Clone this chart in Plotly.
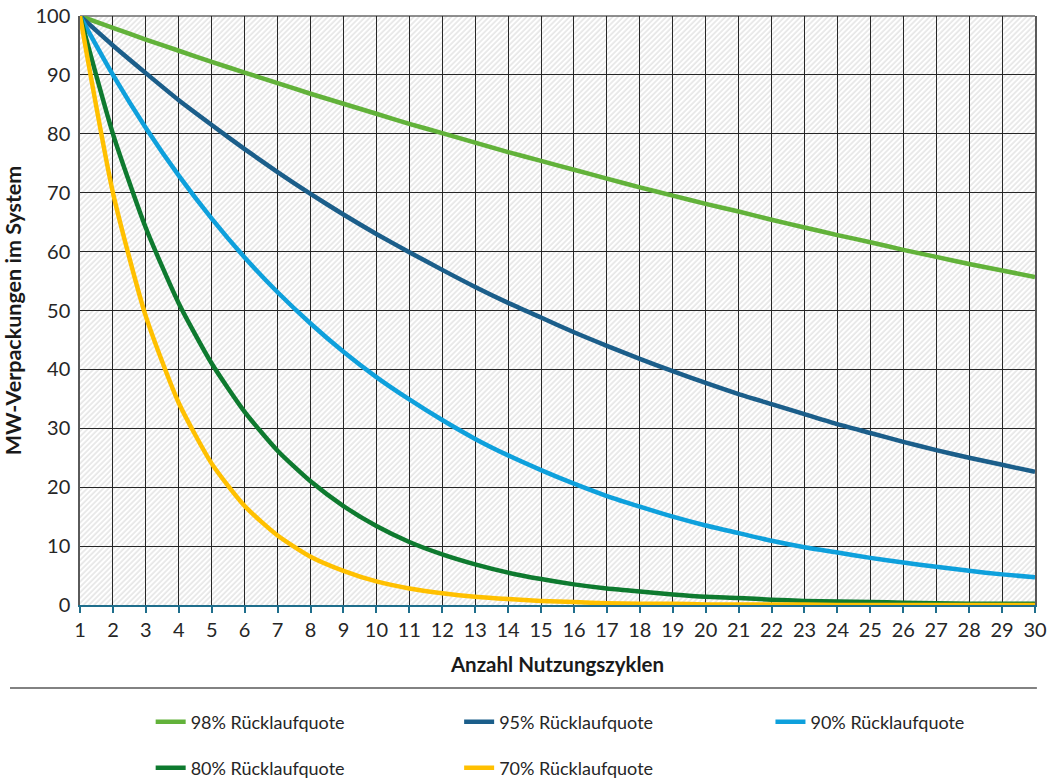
import base64
import plotly.graph_objects as go

# Nutzungszyklen 1..30
zyklen = list(range(1, 31))

# MW-Verpackungen im System je Rücklaufquote
quote_98 = [100, 98.0, 96.0, 94.1, 92.2, 90.4, 88.6, 86.8, 85.1, 83.4,
            81.7, 80.1, 78.5, 76.9, 75.4, 73.9, 72.4, 70.9, 69.5, 68.1,
            66.8, 65.4, 64.1, 62.8, 61.6, 60.3, 59.1, 57.9, 56.8, 55.7]
quote_95 = [100, 95.0, 90.3, 85.7, 81.5, 77.4, 73.5, 69.8, 66.3, 63.0,
            59.9, 56.9, 54.0, 51.3, 48.8, 46.3, 44.0, 41.8, 39.7, 37.7,
            35.8, 34.1, 32.4, 30.7, 29.2, 27.7, 26.3, 25.0, 23.8, 22.6]
quote_90 = [100, 90.0, 81.0, 72.9, 65.6, 59.0, 53.1, 47.8, 43.0, 38.7,
            34.9, 31.4, 28.2, 25.4, 22.9, 20.6, 18.5, 16.7, 15.0, 13.5,
            12.2, 10.9, 9.8, 8.9, 8.0, 7.2, 6.5, 5.8, 5.2, 4.7]
quote_80 = [100, 80.0, 64.0, 51.2, 41.0, 32.8, 26.2, 21.0, 16.8, 13.4,
            10.7, 8.6, 6.9, 5.5, 4.4, 3.5, 2.8, 2.3, 1.8, 1.4,
            1.2, 0.9, 0.7, 0.6, 0.5, 0.4, 0.3, 0.2, 0.2, 0.2]
quote_70 = [100, 70.0, 49.0, 34.3, 24.0, 16.8, 11.8, 8.2, 5.8, 4.0,
            2.8, 2.0, 1.4, 1.0, 0.7, 0.5, 0.3, 0.2, 0.2, 0.1,
            0.1, 0.1, 0.1, 0.0, 0.0, 0.0, 0.0, 0.0, 0.0, 0.0]

# (name, values, colour, legend id, legend x, legend y)
serien = [
    ("98% Rücklaufquote", quote_98, "#62B23A", "legend",  0.074, -0.1986),
    ("95% Rücklaufquote", quote_95, "#1B5E8A", "legend2", 0.397, -0.1986),
    ("90% Rücklaufquote", quote_90, "#0EA0DC", "legend3", 0.723, -0.1986),
    ("80% Rücklaufquote", quote_80, "#0E7A2F", "legend4", 0.074, -0.2767),
    ("70% Rücklaufquote", quote_70, "#FFC000", "legend5", 0.397, -0.2767),
]

x_min, x_max = zyklen[0], zyklen[-1]
y_min, y_max = 0, 100

font = "Lato, 'Noto Sans', sans-serif"

# diagonal hatch used as the plot-area background (sits below the grid)
hatch_svg = (
    '<svg xmlns="http://www.w3.org/2000/svg" width="955" height="589">'
    '<defs><pattern id="h" width="3.8" height="3.8" patternUnits="userSpaceOnUse" '
    'patternTransform="rotate(45)">'
    '<line x1="1" y1="0" x2="1" y2="3.8" stroke="#d6d6d6" stroke-width="1.0"/>'
    '</pattern></defs>'
    '<rect width="100%" height="100%" fill="white"/>'
    '<rect width="100%" height="100%" fill="url(#h)"/></svg>'
)
hatch_uri = "data:image/svg+xml;base64," + base64.b64encode(hatch_svg.encode()).decode()

fig = go.Figure()

for name, werte, farbe, leg, _, _ in serien:
    fig.add_trace(go.Scatter(
        x=zyklen, y=werte, name=name, mode="lines",
        line=dict(color=farbe, width=4.5, shape="spline", smoothing=0.6),
        legend=leg, showlegend=True,
    ))

legenden = {}
for name, _, _, leg, lx, ly in serien:
    legenden[leg] = dict(
        orientation="h", x=lx, y=ly, xref="paper", yref="paper",
        xanchor="left", yanchor="middle",
        font=dict(size=18, color="#262626", family=font),
        bgcolor="rgba(0,0,0,0)", borderwidth=0, visible=True,
    )

fig.update_layout(
    width=1050, height=781,
    showlegend=True,
    margin=dict(l=80, r=15, t=16, b=176, autoexpand=False),
    paper_bgcolor="white", plot_bgcolor="white",
    font=dict(family=font, color="#262626"),
    xaxis=dict(
        range=[x_min, x_max], dtick=1, tick0=1,
        showgrid=True, gridcolor="#262626", gridwidth=1,
        showline=True, linecolor="#1F6E8C", linewidth=2,
        ticks="outside", ticklen=6, tickcolor="#1F6E8C", tickwidth=2,
        tickfont=dict(size=20, color="#262626"),
        zeroline=False, automargin=False,
        title=dict(text="<b>Anzahl Nutzungszyklen</b>",
                   font=dict(size=20.5, color="#1a1a1a"), standoff=18),
    ),
    yaxis=dict(
        range=[y_min, y_max], dtick=10,
        showgrid=True, gridcolor="#262626", gridwidth=1,
        showline=True, linecolor="#5a5a5a", linewidth=1.5, mirror=True,
        ticks="", ticklabelstandoff=4,
        tickfont=dict(size=20, color="#262626"),
        zeroline=False, automargin=False,
        title=dict(text="<b>MW-Verpackungen im System</b>",
                   font=dict(size=21.5, color="#1a1a1a"), standoff=10),
    ),
    images=[dict(source=hatch_uri, xref="paper", yref="paper",
                 x=0, y=1, sizex=1, sizey=1, sizing="stretch",
                 xanchor="left", yanchor="top", layer="below")],
    shapes=[
        dict(type="line", xref="paper", yref="paper",
             x0=0, x1=1, y0=1, y1=1, layer="below",
             line=dict(color="#6a6a6a", width=1.5)),
        dict(type="line", xref="paper", yref="paper",
             x0=-0.0733, x1=1.002, y0=-0.1409, y1=-0.1409,
             line=dict(color="#595959", width=1.5)),
    ],
    **legenden,
)

fig.write_html("out.html")
